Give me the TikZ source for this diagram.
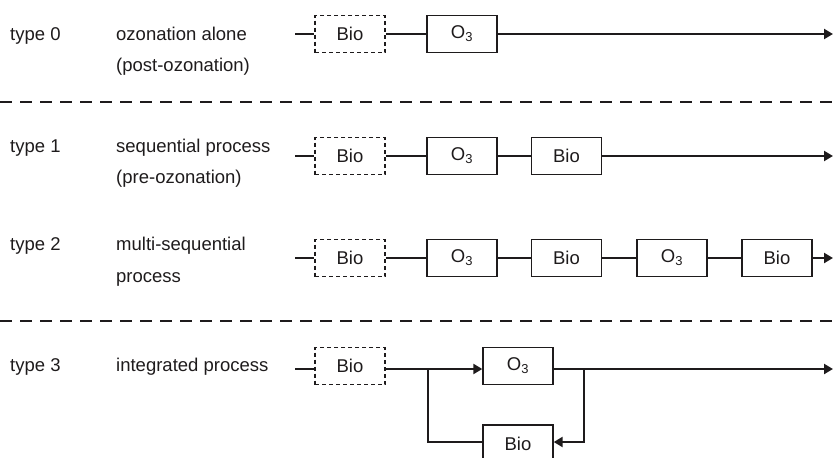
\documentclass[tikz,border=0pt]{standalone}
\usepackage{fontspec}
\setmainfont{Liberation Sans}
\usetikzlibrary{arrows.meta}
\definecolor{ink}{RGB}{30,27,28}
\begin{document}
\begin{tikzpicture}[x=1pt,y=-1pt,
  every node/.style={text=ink, font=\fontsize{18.5}{22}\selectfont},
  label/.style={anchor=base west, inner sep=0pt},
  unit/.style={draw=ink, line width=1.4pt, minimum width=70pt, minimum height=37pt, inner sep=0pt},
  optunit/.style={unit, dashed, line width=1.1pt, dash pattern=on 4pt off 3pt},
  flow/.style={draw=ink, line width=2.5pt},
  flowarrow/.style={flow, -{Triangle[length=9pt,width=10pt]}},
  separator/.style={draw=ink, line width=2.6pt, dash pattern=on 12pt off 8pt}
]
\useasboundingbox (0,0) rectangle (833,458);

% separators between the groups
\coordinate (s1a) at (0,102);  \coordinate (s1b) at (833,102);
\coordinate (s2a) at (0,321);  \coordinate (s2b) at (833,321);
\draw[separator] (s1a) -- (s1b);
\draw[separator] (s2a) -- (s2b);

% ---------- type 0 ----------
\node[label] (t0) at (10,40) {type 0};
\node[label] (d0a) at (116,40) {ozonation alone};
\node[label] (d0b) at (116,71) {(post-ozonation)};
\coordinate (in0) at (295,34);
\node[optunit] (b0) at (350,34) {Bio};
\node[unit] (o0) at (462,34) {O\textsubscript{3}};
\coordinate (out0) at (833,34);
\draw[flow] (in0) -- (b0);
\draw[flow] (b0) -- (o0);
\draw[flowarrow] (o0) -- (out0);

% ---------- type 1 ----------
\node[label] (t1) at (10,152) {type 1};
\node[label] (d1a) at (116,152) {sequential process};
\node[label] (d1b) at (116,183) {(pre-ozonation)};
\coordinate (in1) at (295,156);
\node[optunit] (b1) at (350,156) {Bio};
\node[unit] (o1) at (462,156) {O\textsubscript{3}};
\node[unit] (c1) at (566.5,156) {Bio};
\coordinate (out1) at (833,156);
\draw[flow] (in1) -- (b1);
\draw[flow] (b1) -- (o1);
\draw[flow] (o1) -- (c1);
\draw[flowarrow] (c1) -- (out1);

% ---------- type 2 ----------
\node[label] (t2) at (10,250) {type 2};
\node[label] (d2a) at (116,250) {multi-sequential};
\node[label] (d2b) at (116,282) {process};
\coordinate (in2) at (295,258);
\node[optunit] (b2) at (350,258) {Bio};
\node[unit] (o2) at (462,258) {O\textsubscript{3}};
\node[unit] (c2) at (566.5,258) {Bio};
\node[unit] (o2b) at (672,258) {O\textsubscript{3}};
\node[unit] (c2b) at (777,258) {Bio};
\coordinate (out2) at (833,258);
\draw[flow] (in2) -- (b2);
\draw[flow] (b2) -- (o2);
\draw[flow] (o2) -- (c2);
\draw[flow] (c2) -- (o2b);
\draw[flow] (o2b) -- (c2b);
\draw[flowarrow] (c2b) -- (out2);

% ---------- type 3 ----------
\node[label] (t3) at (10,371) {type 3};
\node[label] (d3a) at (116,371) {integrated process};
\coordinate (in3) at (295,369);
\node[optunit] (b3) at (350,366) {Bio};
\node[unit] (o3) at (518,366) {O\textsubscript{3}};
\node[unit] (c3) at (518,443.5) {Bio};
\coordinate (split) at (428,369);
\coordinate (merge) at (584,369);
\coordinate (out3) at (833,369);
\draw[flow] (in3) -- (b3.west |- in3);
\draw[flow] (b3.east |- in3) -- (split);
\draw[flowarrow] (split) -- (o3.west |- split);
\draw[flowarrow] (o3.east |- merge) -- (out3);
\draw[flowarrow] (merge) |- (c3.east |- 0,442);
\draw[flow] (c3.west |- 0,442) -| (split);
\end{tikzpicture}
\end{document}
